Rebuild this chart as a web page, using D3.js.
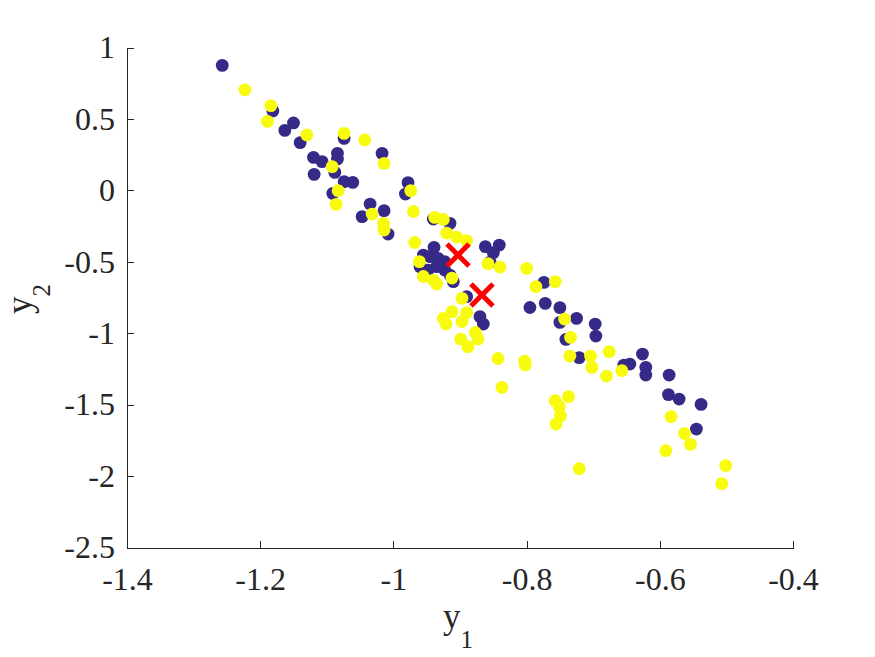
<!DOCTYPE html>
<html>
<head>
<meta charset="utf-8">
<script src="https://cdn.jsdelivr.net/npm/d3@7"></script>
<style>
  html, body { margin: 0; padding: 0; background: #fff; }
  svg { display: block; }
  .axis path, .axis line { stroke: #262626; stroke-width: 1; shape-rendering: crispEdges; }
</style>
</head>
<body>
<div id="chart"></div>
<script>
const WIDTH = 875;
const HEIGHT = 657;
const FONT = "'Liberation Serif', 'Times New Roman', serif";

// cluster 1 (dark blue)
const navyPoints = [
  [-1.257, 0.875], [-1.181, 0.556], [-1.150, 0.472], [-1.163, 0.420], [-1.140, 0.334],
  [-1.074, 0.364], [-1.017, 0.259], [-1.120, 0.231], [-1.107, 0.201], [-1.084, 0.259],
  [-1.084, 0.220], [-1.088, 0.126], [-1.119, 0.112], [-1.074, 0.061], [-1.061, 0.056],
  [-1.091, -0.021], [-1.035, -0.096], [-1.047, -0.184], [-1.014, -0.142], [-0.978, 0.054],
  [-0.982, -0.026], [-1.008, -0.306], [-0.940, -0.201], [-0.915, -0.231], [-0.939, -0.399],
  [-0.955, -0.453], [-0.945, -0.464], [-0.933, -0.476], [-0.923, -0.499], [-0.935, -0.534],
  [-0.960, -0.534], [-0.948, -0.558], [-0.923, -0.558], [-0.915, -0.593], [-0.910, -0.639],
  [-0.862, -0.394], [-0.841, -0.383], [-0.850, -0.436], [-0.855, -0.502], [-0.890, -0.744],
  [-0.870, -0.884], [-0.865, -0.936], [-0.774, -0.644], [-0.795, -0.820], [-0.772, -0.791],
  [-0.750, -0.821], [-0.750, -0.924], [-0.725, -0.896], [-0.697, -0.936], [-0.696, -1.020],
  [-0.741, -1.043], [-0.721, -1.171], [-0.654, -1.223], [-0.645, -1.216], [-0.626, -1.146],
  [-0.621, -1.239], [-0.621, -1.293], [-0.586, -1.293], [-0.587, -1.430], [-0.571, -1.461],
  [-0.538, -1.498], [-0.545, -1.671]
];

// cluster 2 (yellow)
const yellowPoints = [
  [-1.223, 0.703], [-1.184, 0.593], [-1.189, 0.483], [-1.130, 0.388], [-1.074, 0.399],
  [-1.043, 0.353], [-1.014, 0.189], [-1.092, 0.166], [-1.083, -0.002], [-1.086, -0.098],
  [-1.032, -0.166], [-0.974, -0.002], [-0.970, -0.148], [-1.015, -0.231], [-1.014, -0.278],
  [-0.938, -0.189], [-0.925, -0.204], [-0.920, -0.299], [-0.905, -0.327], [-0.890, -0.352],
  [-0.968, -0.365], [-0.961, -0.499], [-0.955, -0.603], [-0.940, -0.628], [-0.935, -0.656],
  [-0.912, -0.614], [-0.858, -0.513], [-0.840, -0.537], [-0.800, -0.546], [-0.786, -0.674],
  [-0.757, -0.639], [-0.897, -0.756], [-0.912, -0.849], [-0.925, -0.896], [-0.921, -0.936],
  [-0.890, -0.856], [-0.897, -0.918], [-0.877, -0.995], [-0.873, -1.041], [-0.899, -1.041],
  [-0.888, -1.094], [-0.843, -1.177], [-0.837, -1.379], [-0.803, -1.195], [-0.802, -1.223],
  [-0.743, -0.901], [-0.734, -1.029], [-0.735, -1.160], [-0.704, -1.160], [-0.702, -1.239],
  [-0.676, -1.129], [-0.680, -1.300], [-0.657, -1.262], [-0.757, -1.472], [-0.737, -1.444],
  [-0.751, -1.514], [-0.749, -1.580], [-0.756, -1.636], [-0.721, -1.948], [-0.583, -1.584],
  [-0.563, -1.701], [-0.554, -1.778], [-0.591, -1.822], [-0.501, -1.927], [-0.507, -2.053]
];

// cluster centres
const centroids = [[-0.903, -0.453], [-0.867, -0.733]];

const xTicks = [-1.4, -1.2, -1, -0.8, -0.6, -0.4];
const yTicks = [-2.5, -2, -1.5, -1, -0.5, 0, 0.5, 1];

const PLOT = { left: 127, right: 793, top: 47.5, bottom: 547.5 };

const svg = d3.select("#chart")
  .append("svg")
  .attr("width", WIDTH)
  .attr("height", HEIGHT);

const x = d3.scaleLinear().domain([-1.4, -0.4]).range([PLOT.left, PLOT.right]);
const y = d3.scaleLinear().domain([-2.5, 1]).range([PLOT.bottom, PLOT.top]);

// ticks drawn inside the axes, labels outside
const xAxis = svg.append("g")
  .attr("class", "axis x-axis")
  .attr("transform", `translate(0,${PLOT.bottom})`)
  .call(d3.axisBottom(x).tickValues(xTicks).tickSizeInner(-7).tickSizeOuter(0).tickPadding(20)
    .tickFormat((d) => String(d)));

const yAxis = svg.append("g")
  .attr("class", "axis y-axis")
  .attr("transform", `translate(${PLOT.left},0)`)
  .call(d3.axisLeft(y).tickValues(yTicks).tickSizeInner(-7).tickSizeOuter(0).tickPadding(12)
    .tickFormat((d) => String(d)));

[xAxis, yAxis].forEach((g) => {
  g.attr("font-family", null).attr("font-size", null);
  g.selectAll("text")
    .style("font-family", FONT)
    .style("font-size", "32px")
    .attr("fill", "#262626");
});

// axis labels with subscripts
const xLabel = svg.append("text")
  .attr("x", 458)
  .attr("y", 628)
  .attr("text-anchor", "middle")
  .attr("fill", "#262626")
  .style("font-family", FONT)
  .style("font-size", "35px");
xLabel.append("tspan").text("y");
xLabel.append("tspan").style("font-size", "25px").attr("dy", 20).text("1");

const yLabel = svg.append("text")
  .attr("transform", "translate(31,299) rotate(-90)")
  .attr("text-anchor", "middle")
  .attr("fill", "#262626")
  .style("font-family", FONT)
  .style("font-size", "35px");
yLabel.append("tspan").text("y");
yLabel.append("tspan").style("font-size", "25px").attr("dy", 19).text("2");

const dots = svg.append("g").attr("class", "dots");

dots.selectAll("circle.navy")
  .data(navyPoints)
  .join("circle")
  .attr("class", "navy")
  .attr("cx", (d) => x(d[0]))
  .attr("cy", (d) => y(d[1]))
  .attr("r", 6.4)
  .attr("fill", "#352a87");

dots.selectAll("circle.yellow")
  .data(yellowPoints)
  .join("circle")
  .attr("class", "yellow")
  .attr("cx", (d) => x(d[0]))
  .attr("cy", (d) => y(d[1]))
  .attr("r", 6.4)
  .attr("fill", "#f9fb0e");

// centroid crosses
const s = 11;
const cross = svg.append("g").attr("class", "centroids")
  .selectAll("g")
  .data(centroids)
  .join("g")
  .attr("transform", (d) => `translate(${x(d[0])},${y(d[1])})`);

cross.append("line").attr("x1", -s).attr("y1", -s).attr("x2", s).attr("y2", s);
cross.append("line").attr("x1", -s).attr("y1", s).attr("x2", s).attr("y2", -s);
cross.selectAll("line").attr("stroke", "#ff0000").attr("stroke-width", 5);
</script>
</body>
</html>
